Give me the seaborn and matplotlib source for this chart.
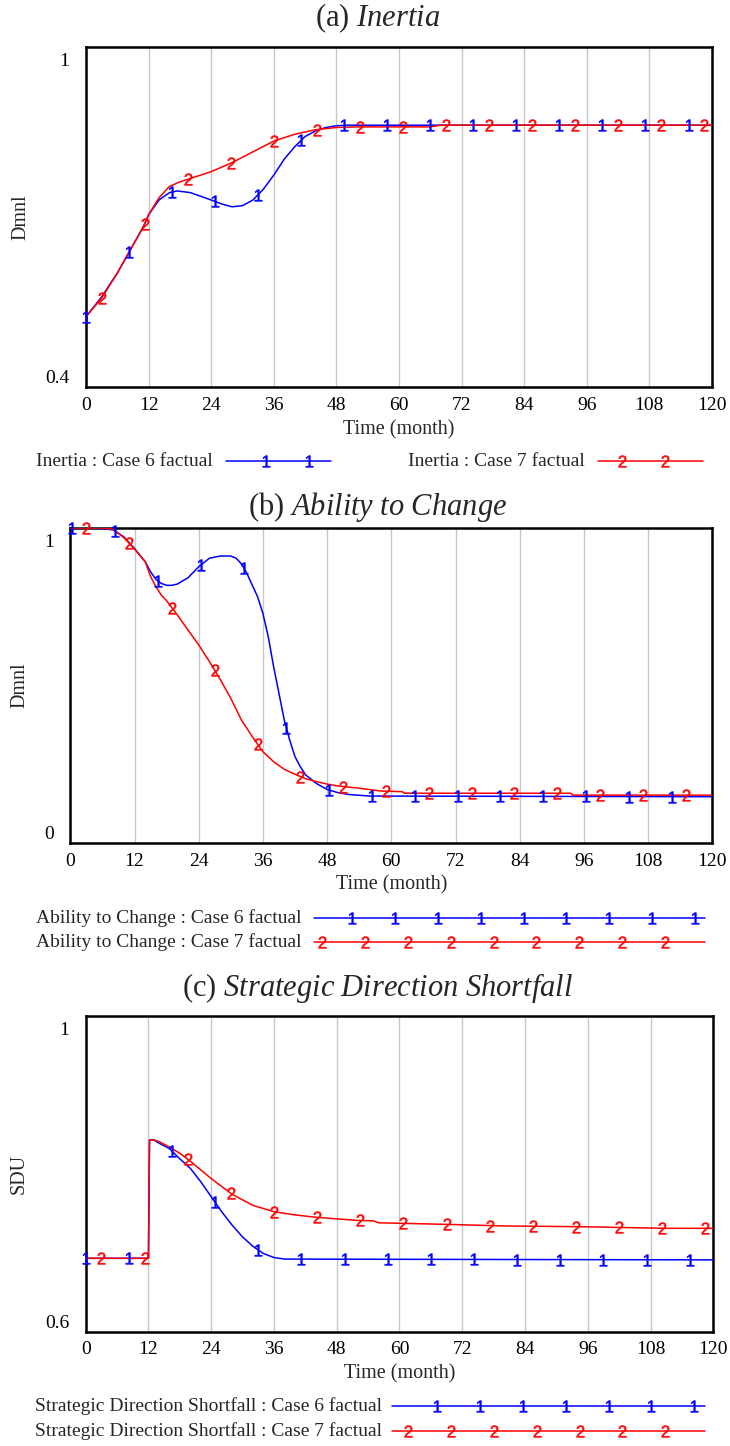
import numpy as np
import matplotlib
matplotlib.use('Agg')
import matplotlib.pyplot as plt
import matplotlib.transforms as mtransforms
import seaborn as sns

# ---- data (time in months) ----
# (a) Inertia
t_inertia_6 = [0, 3, 6, 8.5, 11, 12, 14, 16, 17.5, 20, 24, 26, 28, 30, 32, 34, 36, 38, 40, 42, 44, 46, 48, 50, 120]
inertia_6 = [0.524, 0.559, 0.601, 0.642, 0.683, 0.704, 0.730, 0.743, 0.746, 0.743, 0.730, 0.723, 0.718, 0.720,
             0.730, 0.749, 0.774, 0.802, 0.824, 0.842, 0.852, 0.858, 0.861, 0.862, 0.862]
t_inertia_7 = [0, 3, 6, 9, 11, 12, 14, 16, 18, 20, 24, 28, 32, 36, 40, 44, 48, 52, 66, 68, 120]
inertia_7 = [0.524, 0.557, 0.601, 0.650, 0.683, 0.704, 0.734, 0.754, 0.762, 0.768, 0.780, 0.796, 0.815, 0.834,
             0.846, 0.854, 0.858, 0.859, 0.859, 0.862, 0.862]

# (b) Ability to Change
t_ability_6 = [0, 4, 6, 8, 10, 12, 13, 14, 15, 16, 17, 18, 19, 20, 22, 24, 26, 28, 30, 31, 32, 33, 34, 35, 36,
               37, 38, 39, 40, 41, 42, 43, 44, 46, 48, 50, 52, 56, 120]
ability_6 = [1.0, 1.0, 0.998, 0.994, 0.972, 0.935, 0.914, 0.893, 0.861, 0.837, 0.824, 0.818, 0.818, 0.822, 0.842,
             0.877, 0.904, 0.911, 0.911, 0.904, 0.886, 0.856, 0.819, 0.782, 0.729, 0.655, 0.560, 0.475, 0.390,
             0.327, 0.274, 0.242, 0.216, 0.189, 0.170, 0.160, 0.154, 0.149, 0.147]
t_ability_7 = [0, 6, 8, 10, 12, 14, 15, 16, 17, 18, 20, 22, 24, 26, 28, 30, 32, 34, 36, 38, 40, 42, 44, 46, 48,
               50, 54, 58, 62, 62.5, 93.5, 94, 120]
ability_7 = [1.0, 1.0, 0.996, 0.970, 0.933, 0.893, 0.846, 0.814, 0.787, 0.769, 0.724, 0.676, 0.629, 0.576, 0.520,
             0.459, 0.390, 0.338, 0.290, 0.258, 0.234, 0.218, 0.204, 0.195, 0.187, 0.181, 0.174, 0.165, 0.163,
             0.158, 0.158, 0.152, 0.152]

# (c) Strategic Direction Shortfall
t_sds_6 = [0, 12, 12.2, 13, 14, 16, 18, 20, 22, 24, 26, 28, 30, 32, 34, 36, 38, 120]
sds_6 = [0.693, 0.693, 0.843, 0.843, 0.839, 0.832, 0.819, 0.807, 0.790, 0.771, 0.752, 0.735, 0.720, 0.708, 0.699,
         0.694, 0.692, 0.691]
t_sds_7 = [0, 12, 12.2, 13, 14, 16, 18, 20, 22, 24, 26, 28, 30, 32, 34, 36, 40, 44, 48, 52, 55, 56, 69, 80, 95,
           111, 120]
sds_7 = [0.693, 0.693, 0.843, 0.843, 0.841, 0.834, 0.826, 0.816, 0.805, 0.794, 0.784, 0.774, 0.767, 0.760, 0.756,
         0.752, 0.748, 0.745, 0.743, 0.741, 0.7405, 0.738, 0.736, 0.734, 0.733, 0.731, 0.731]

x_ticks = list(range(0, 121, 12))

panels = [
    dict(title=r'(a) $\mathit{Inertia}$', unit='Dmnl', ylim=(0.4, 1), ylabels=['0.4', '1'],
         rect=(86, 47, 712, 387), series=[(t_inertia_6, inertia_6), (t_inertia_7, inertia_7)],
         mk=[np.arange(0, 120, 8.25), np.arange(3, 120, 8.25)],
         title_y=18, ylab_x=21, xlab_y=430),
    dict(title=r'(b) $\mathit{Ability\ to\ Change}$', unit='Dmnl', ylim=(0, 1), ylabels=['0', '1'],
         rect=(70.3, 528, 712.3, 843), series=[(t_ability_6, ability_6), (t_ability_7, ability_7)],
         mk=[np.arange(0.4, 120, 8.0), np.arange(3, 120, 8.0)],
         title_y=507, ylab_x=20, xlab_y=885),
    dict(title=r'(c) $\mathit{Strategic\ Direction\ Shortfall}$', unit='SDU', ylim=(0.6, 1), ylabels=['0.6', '1'],
         rect=(85.7, 1016, 713.3, 1331.7), series=[(t_sds_6, sds_6), (t_sds_7, sds_7)],
         mk=[np.arange(0, 120, 8.25), np.arange(3, 120, 8.25)],
         title_y=988, ylab_x=19, xlab_y=1374),
]

colors = ['#0000ff', '#ff0000']
glyphs = [r'$\mathsf{1}$', r'$\mathsf{2}$']

sns.set_theme(style='white')
plt.rcParams['font.family'] = ['Liberation Serif', 'DejaVu Serif']
plt.rcParams['mathtext.fontset'] = 'custom'
plt.rcParams['mathtext.rm'] = 'Liberation Serif'
plt.rcParams['mathtext.it'] = 'Liberation Serif:italic'
plt.rcParams['mathtext.sf'] = 'Liberation Sans'

W, H = 730, 1446
fig = plt.figure(figsize=(W / 100, H / 100), dpi=100)

for p in panels:
    x0, y0, x1, y1 = p['rect']
    ax = fig.add_axes([x0 / W, 1 - y1 / H, (x1 - x0) / W, (y1 - y0) / H])
    for (t, v), c, g, mt in zip(p['series'], colors, glyphs, p['mk']):
        sns.lineplot(x=t, y=v, ax=ax, color=c, linewidth=1.1, zorder=3)
        ax.plot(mt, np.interp(mt, t, v), ls='none', marker=g, color=c, ms=8.5, mew=0.35,
                zorder=4, clip_on=False)
    ax.set_xlim(0, 120)
    ax.set_ylim(*p['ylim'])
    ax.set_xticks(x_ticks)
    ax.set_yticks(list(p['ylim']), p['ylabels'])
    ax.tick_params(axis='both', length=0, labelsize=14, colors='black')
    ax.tick_params(axis='y', pad=12)
    ax.tick_params(axis='x', pad=7)
    ylabs = ax.get_yticklabels()
    ylabs[0].set_va('bottom')
    ylabs[-1].set_va('top')
    shift = mtransforms.ScaledTranslation(0, -6 / 100, fig.dpi_scale_trans)
    ylabs[-1].set_transform(ylabs[-1].get_transform() + shift)
    ax.xaxis.grid(True, color='#c8c8c8', lw=1.0)
    ax.yaxis.grid(False)
    for s in ax.spines.values():
        s.set_color('black')
        s.set_linewidth(1.8)
    ax.set_xlabel('Time (month)', fontsize=14.5)
    ax.xaxis.set_label_coords(0.5, -(p['xlab_y'] - y1) / (y1 - y0))
    ax.xaxis.label.set_va('center')
    ax.set_ylabel(p['unit'], fontsize=14.5)
    ax.yaxis.set_label_coords((p['ylab_x'] - x0) / (x1 - x0), 0.5)
    ax.yaxis.label.set_va('center')
    fig.text(378 / W, 1 - p['title_y'] / H, p['title'], fontsize=22, ha='center', va='center')

# Vensim-style legends, drawn in pixel coordinates on an overlay
lax = fig.add_axes([0, 0, 1, 1])
lax.set_xlim(0, W)
lax.set_ylim(H, 0)
lax.axis('off')

legend_rows = [
    ('Inertia : Case 6 factual', 36, 461, 226, 331, 266, 0),
    ('Inertia : Case 7 factual', 408, 461, 598, 703, 622, 1),
    ('Ability to Change : Case 6 factual', 36, 918, 314, 705, 352, 0),
    ('Ability to Change : Case 7 factual', 36, 942, 314, 705, 322, 1),
    ('Strategic Direction Shortfall : Case 6 factual', 35, 1406, 392, 705, 437, 0),
    ('Strategic Direction Shortfall : Case 7 factual', 35, 1431, 392, 705, 408, 1),
]
for label, tx, ty, lx0, lx1, m0, k in legend_rows:
    lax.text(tx, ty, label, fontsize=14, ha='left', va='center')
    lax.plot([lx0, lx1], [ty, ty], color=colors[k], lw=1.1)
    mx = np.arange(m0, lx1, 42.9)
    lax.plot(mx, [ty] * len(mx), ls='none', marker=glyphs[k], color=colors[k], ms=8.5, mew=0.35)

fig.savefig('out.png', dpi=100)
